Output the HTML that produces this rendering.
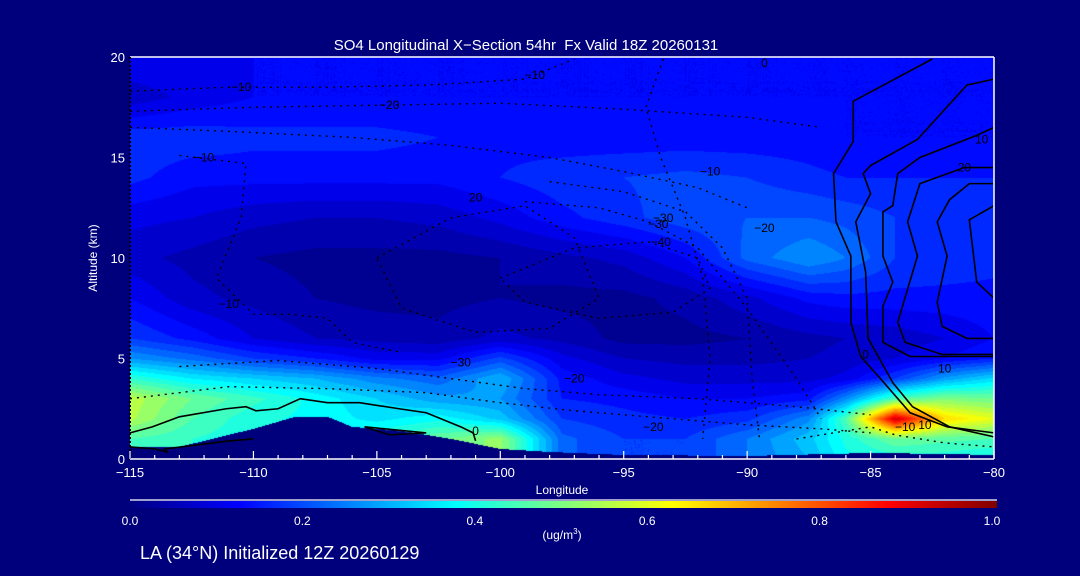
<!DOCTYPE html>
<html><head><meta charset="utf-8"><style>
html,body{margin:0;padding:0;background:rgb(0,0,124);}
#wrap{position:relative;width:1080px;height:576px;overflow:hidden;background:rgb(0,0,124);font-family:"Liberation Sans",sans-serif;color:#fff;}
canvas{position:absolute;}
svg{position:absolute;left:0;top:0;}
</style></head><body>
<div id="wrap">
<canvas id="field" width="864" height="402" style="left:130px;top:57px"></canvas>
<canvas id="cbar" width="867" height="7" style="left:130px;top:501px"></canvas>
<svg id="ov" width="1080" height="576"></svg>
</div>
<script>
const lons=[-115,-112.5,-110,-107.5,-105,-102.5,-100,-97.5,-95,-92.5,-90,-87.5,-86,-84,-82,-80];
const alts=[0,1,2,3,4,5,6,8,10,12,14,16,18,20];
const conc=[
[.42,.42,.40,.38,.42,.48,.52,.22,.18,.18,.24,.30,.38,.40,.40,.38],
[.45,.42,.40,.38,.42,.48,.52,.22,.18,.18,.24,.32,.40,.48,.46,.45],
[.55,.45,.40,.38,.35,.38,.32,.18,.16,.15,.17,.26,.45,.93,.66,.60],
[.56,.48,.43,.38,.33,.28,.27,.15,.14,.12,.12,.14,.26,.45,.50,.48],
[.42,.36,.33,.30,.25,.22,.30,.14,.10,.08,.08,.08,.10,.18,.28,.34],
[.27,.23,.18,.15,.11,.11,.19,.10,.06,.05,.05,.06,.07,.09,.12,.15],
[.18,.14,.09,.06,.05,.04,.07,.05,.02,.02,.03,.05,.06,.07,.09,.12],
[.12,.07,.05,.03,.02,.02,.03,.02,.02,.04,.08,.13,.14,.14,.14,.14],
[.07,.05,.03,.02,.02,.02,.03,.05,.07,.12,.22,.27,.24,.18,.17,.16],
[.10,.09,.07,.06,.06,.07,.10,.14,.17,.20,.21,.21,.20,.18,.17,.17],
[.16,.13,.13,.13,.13,.13,.15,.17,.18,.19,.18,.16,.15,.15,.15,.15],
[.17,.17,.16,.16,.16,.15,.14,.13,.13,.13,.13,.13,.12,.12,.12,.12],
[.07,.10,.12,.12,.12,.12,.12,.12,.12,.12,.12,.12,.12,.12,.12,.12],
[.12,.12,.12,.12,.12,.12,.12,.12,.12,.12,.12,.12,.12,.12,.12,.12]];
const terrainLon=[-115,-113,-110,-108.3,-107,-106,-104,-102,-100,-98,-95,-90,-85,-82,-80];
const terrainAlt=[0.6,0.6,1.5,2.1,2.1,1.6,1.4,1.0,0.5,0.35,0.2,0.15,0.3,0.25,0.2];
const xTicks=[-115,-110,-105,-100,-95,-90,-85,-80];
const yTicks=[0,5,10,15,20];
const cbTicks=[0.0,0.2,0.4,0.6,0.8,1.0];
const solidLines=[
 {lon:[-82.5,-85.7,-85.7,-86.5,-86.4,-85.8,-85.8,-85.4,-84.6,-83.4,-81.9,-80.0],alt:[19.9,17.8,15.8,14.2,11.8,10.1,6.8,5.1,4.0,2.3,1.6,1.3]},
 {lon:[-80.0,-81.1,-83.1,-85.0,-85.3,-85.0,-85.6,-85.2,-85.1,-84.1,-83.3,-81.8,-80.0],alt:[18.9,18.6,15.9,14.6,14.2,13.2,11.8,9.3,6.0,3.8,2.6,1.6,1.1]},
 {lon:[-80.0,-80.7,-83.0,-83.9,-84.1,-84.5,-84.5,-84.1,-84.5,-84.5,-83.4,-80.0],alt:[16.5,16.1,15.0,14.2,12.6,12.3,10.1,8.8,7.6,5.8,5.1,5.1]},
 {lon:[-80.0,-81.2,-83.0,-83.5,-83.1,-83.9,-83.6,-82.1,-80.0],alt:[14.5,14.5,13.7,11.8,10.1,6.8,5.8,5.2,5.2]},
 {lon:[-80.0,-81.0,-81.8,-82.3,-81.9,-82.3,-82.1,-81.1,-80.0],alt:[13.7,13.7,12.9,11.8,10.1,7.8,6.6,6.0,6.0]},
 {lon:[-80,-81,-80.7,-80],alt:[12.6,11.9,8.8,8.0]},
 {lon:[-115,-114.1,-113.0,-111.1,-110.3,-109.9,-109.0,-108.1,-107.0,-105.7,-104.1,-103.0,-101.6,-101.1,-101.0],alt:[1.3,1.6,2.1,2.5,2.6,2.4,2.5,3.0,2.8,2.8,2.5,2.3,1.6,1.3,0.9]},
 {lon:[-115,-114,-113.5,-113.6,-111,-110],alt:[0.6,0.5,0.35,0.5,0.9,1.0]},
 {lon:[-105.5,-103,-104.5,-105.5],alt:[1.6,1.3,1.2,1.6]}
];
const dotLines=[
 {lon:[-115,-111,-107,-103,-99,-97],alt:[18.3,18.5,18.5,18.6,18.9,19.9]},
 {lon:[-115,-110,-105,-100,-95,-90,-87],alt:[17.3,17.5,17.6,17.7,17.4,17.0,16.5]},
 {lon:[-115,-111,-106,-102,-98,-95,-92,-90],alt:[16.5,16.3,16.0,15.6,15.0,14.3,13.5,12.5]},
 {lon:[-113,-110.3,-110.5,-111.5,-110,-108.5,-107,-106,-104],alt:[15.1,14.7,12,9,7.2,7.2,7,5.8,5.3]},
 {lon:[-93.4,-94.1,-93.5,-92.5,-91.8,-91.5,-91.8],alt:[19.9,17.5,15,12,9,5,1]},
 {lon:[-98,-95,-92.5,-91,-90,-89.8,-89.5],alt:[13.8,13.3,12.3,10.5,8,4,1]},
 {lon:[-99,-96,-94,-92,-90,-88,-87],alt:[12.8,12.5,11.8,10.5,7.5,4,2]},
 {lon:[-115,-111,-107,-103,-100,-97,-93,-90,-87,-85],alt:[3.0,3.6,3.5,3.3,2.8,2.4,2.0,1.7,1.5,1.3]},
 {lon:[-113,-109,-105,-102,-99,-96,-92,-88,-85],alt:[4.6,4.9,4.5,4.0,3.5,3.2,3.0,2.6,2.2]},
 {lon:[-100,-97,-94,-92,-91.5,-93,-96,-99,-100],alt:[9,10.5,10.8,10,8.5,7.3,7,7.8,9]},
 {lon:[-105,-102,-99,-97,-96,-98,-101,-104,-105],alt:[10,12,12.6,11,8,6.5,6.3,7.5,10]},
 {lon:[-88,-86.5,-85,-84,-82,-80],alt:[1,1.3,1.6,1.2,0.8,0.6]}
];
const labelText=["-10","-20","-10","20","-10","-30","0","-20","-30","-40","-10","-20","0","10","10","20","10","-10","-10","-20","-30","0"];
const labelLon=[-110.5,-104.5,-112,-101,-98.6,-101.6,-89.3,-97,-93.6,-93.5,-91.5,-89.3,-85.2,-80.5,-82,-81.2,-82.8,-83.6,-111,-93.8,-93.4,-101];
const labelAlt=[18.5,17.6,15.0,13,19.1,4.8,19.7,4,11.7,10.8,14.3,11.5,5.2,15.9,4.5,14.5,1.7,1.6,7.7,1.6,12.0,1.4];

const X0=130,X1=994,Y0=57,Y1=459;
const xs=l=>X0+(l+115)/35*(X1-X0);
const ys=a=>Y1-a/20*(Y1-Y0);
function jet(v){v=Math.max(0,Math.min(1,v));
 const st=[[0,0,0,130],[0.125,0,0,255],[0.375,0,255,255],[0.625,255,255,0],[0.875,255,0,0],[1,128,0,0]];
 for(let i=0;i<st.length-1;i++){if(v<=st[i+1][0]){const t=(v-st[i][0])/(st[i+1][0]-st[i][0]);return [0,1,2].map(k=>Math.round(st[i][k+1]+t*(st[i+1][k+1]-st[i][k+1])));}}
 return [128,0,0];}
function seg(arr,v){for(let i=0;i<arr.length-1;i++){if(v<=arr[i+1])return [i,(v-arr[i])/(arr[i+1]-arr[i])];}return [arr.length-2,1];}
function interp1(xa,ya,v){const [i,t]=seg(xa,v);return ya[i]+t*(ya[i+1]-ya[i]);}
(function(){const c=document.getElementById('field'),g=c.getContext('2d');const W=c.width,H=c.height;const im=g.createImageData(W,H);
 for(let px=0;px<W;px++){const lon=-115+(px+0.5)/W*35;const [i,tx]=seg(lons,lon);const ter=interp1(terrainLon,terrainAlt,lon);
  for(let py=0;py<H;py++){const alt=20-(py+0.5)/H*20;let col;
   if(alt<ter){col=[0,0,124];}else{const [j,ty]=seg(alts,alt);
    const v=(1-tx)*(1-ty)*conc[j][i]+tx*(1-ty)*conc[j][i+1]+(1-tx)*ty*conc[j+1][i]+tx*ty*conc[j+1][i+1];
    const q=Math.floor(v/0.03)*0.03+0.015;col=jet(q);}
   const o=(py*W+px)*4;im.data[o]=col[0];im.data[o+1]=col[1];im.data[o+2]=col[2];im.data[o+3]=255;}}
 g.putImageData(im,0,0);
 const cb=document.getElementById('cbar'),h=cb.getContext('2d');for(let x=0;x<cb.width;x++){const c2=jet(x/(cb.width-1));h.fillStyle=`rgb(${c2})`;h.fillRect(x,0,1,7);}
})();
const NS='http://www.w3.org/2000/svg';const ov=document.getElementById('ov');
function mk(tag,at){const e=document.createElementNS(NS,tag);for(const k in at)e.setAttribute(k,at[k]);ov.appendChild(e);return e;}
solidLines.forEach(L=>{const e=mk('polyline',{points:L.lon.map((l,i)=>xs(l)+','+ys(L.alt[i])).join(' '),fill:'none',stroke:'#000','stroke-width':1.6});
 
 });
dotLines.forEach(L=>{const e=mk('polyline',{points:L.lon.map((l,i)=>xs(l)+','+ys(L.alt[i])).join(' '),fill:'none',stroke:'#000','stroke-width':1.4,'stroke-dasharray':'2 5'});
 
 });
labelText.forEach((t,i)=>{const e=mk('text',{x:xs(labelLon[i]),y:ys(labelAlt[i])+4,'font-size':12,fill:'#000','text-anchor':'middle','font-family':'Liberation Sans, sans-serif'});e.textContent=t.replace('-','\u2212');
 
 });
let e=mk('line',{x1:X0,y1:Y0,x2:X1,y2:Y0,stroke:'#fff','stroke-width':1.5});


e=mk('line',{x1:X0,y1:Y1,x2:X1,y2:Y1,stroke:'#fff','stroke-width':1.5});


e=mk('line',{x1:X1,y1:Y0,x2:X1,y2:Y1,stroke:'#fff','stroke-width':1.5});


e=mk('line',{x1:X0,y1:Y0,x2:X0,y2:Y1,stroke:'#000','stroke-width':2,'stroke-dasharray':'2 2'});


for(let l=-115;l<=-80;l++){const maj=(l%5===0);const t=mk('line',{x1:xs(l),y1:Y1,x2:xs(l),y2:Y1-(maj?8:4),stroke:'#fff','stroke-width':1.2});
 
 }
xTicks.forEach(l=>{const t=mk('text',{x:xs(l),y:477,'font-size':13,fill:'#fff','text-anchor':'middle'});t.textContent=String(l).replace('-','\u2212');
 
 });
yTicks.forEach(a=>{const t=mk('text',{x:125,y:ys(a)+5,'font-size':13,fill:'#fff','text-anchor':'end'});t.textContent=a;
 
 });
cbTicks.forEach(v=>{const t=mk('text',{x:130+v*862,y:525,'font-size':12,fill:'#fff','text-anchor':'middle'});t.textContent=v.toFixed(1);
 
 });
e=mk('line',{x1:130,y1:500,x2:997,y2:500,stroke:'#fff','stroke-width':1.2});


</script>
<svg width="1080" height="576" style="position:absolute;left:0;top:0">
<text x="526" y="50" font-size="15" fill="#fff" text-anchor="middle" font-family="Liberation Sans, sans-serif" xml:space="preserve">SO4 Longitudinal X−Section 54hr  Fx Valid 18Z 20260131</text>
<text x="97" y="258" font-size="12" fill="#fff" text-anchor="middle" font-family="Liberation Sans, sans-serif" transform="rotate(-90 97 258)">Altitude (km)</text>
<text x="562" y="494" font-size="12" fill="#fff" text-anchor="middle" font-family="Liberation Sans, sans-serif">Longitude</text>
<text x="562" y="539" font-size="12" fill="#fff" text-anchor="middle" font-family="Liberation Sans, sans-serif">(ug/m<tspan dy="-5" font-size="8">3</tspan><tspan dy="5">)</tspan></text>
<text x="140" y="559" font-size="18" fill="#fff" font-family="Liberation Sans, sans-serif">LA (34°N) Initialized 12Z 20260129</text>
</svg>
</body></html>
